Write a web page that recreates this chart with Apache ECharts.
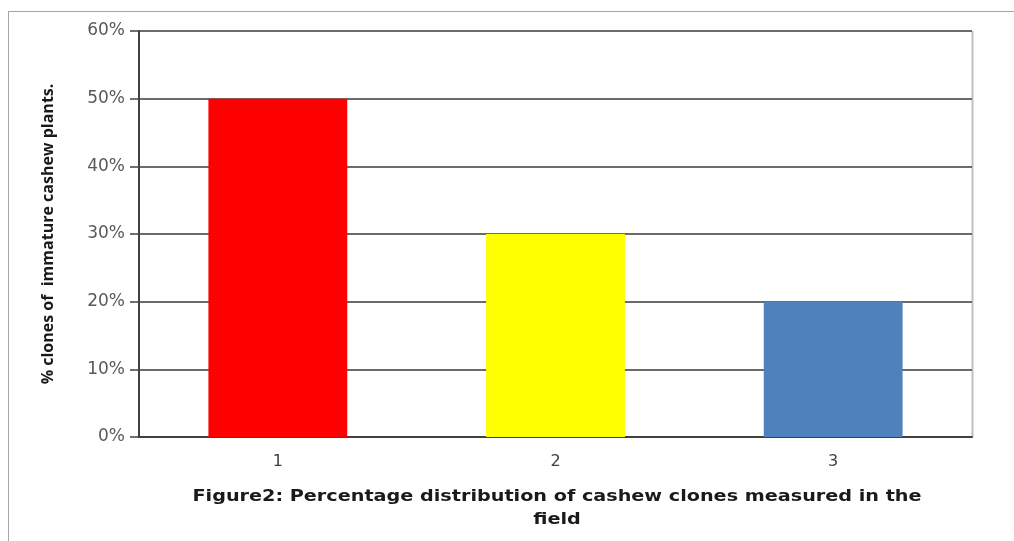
<!DOCTYPE html>
<html>
<head>
<meta charset="utf-8">
<script src="https://cdn.jsdelivr.net/npm/echarts@6/dist/echarts.min.js"></script>
<style>
  html, body { margin: 0; padding: 0; background: #fff; }
  #chart { width: 1014px; height: 541px; }
</style>
</head>
<body>
<div id="chart"></div>
<script>
// Clone groups and their share of immature cashew plants (%)
const categories = ['1', '2', '3'];
const shares = [50, 30, 20];
const barColors = ['#ff0000', '#ffff00', '#4f81bd'];
const yTicks = [0, 10, 20, 30, 40, 50, 60];
const captionLines = ['Figure2: Percentage distribution of cashew clones measured in the', 'field'];

const chart = echarts.init(document.getElementById('chart'));

chart.setOption({
  animation: false,
  backgroundColor: '#ffffff',
  graphic: [
    // outer frame: top and left rules
    { type: 'line', shape: { x1: 8, y1: 11.5, x2: 1014, y2: 11.5 }, style: { stroke: '#a6a6a6', lineWidth: 1 } },
    { type: 'line', shape: { x1: 8.5, y1: 11, x2: 8.5, y2: 541 }, style: { stroke: '#a6a6a6', lineWidth: 1 } },
    // plot area right edge
    { type: 'line', shape: { x1: 972.5, y1: 31, x2: 972.5, y2: 437 }, style: { stroke: '#bfbfbf', lineWidth: 2 } },
    // caption under the chart, widened a little
    {
      type: 'text',
      x: 557,
      y: 485,
      scaleX: 1.2,
      style: {
        text: captionLines.join('\n'),
        align: 'center',
        fontFamily: 'DejaVu Sans',
        fontWeight: 'bold',
        fontSize: 16,
        lineHeight: 23,
        fill: '#1a1a1a'
      }
    }
  ],
  grid: {
    left: 139,
    right: 42,
    top: 31,
    bottom: 104,
    containLabel: false
  },
  xAxis: {
    type: 'category',
    data: categories,
    axisLine: { show: true, lineStyle: { color: '#404040', width: 2 } },
    axisTick: { show: false },
    axisLabel: {
      margin: 17,
      fontFamily: 'DejaVu Sans',
      fontSize: 16,
      color: '#404040'
    }
  },
  yAxis: {
    type: 'value',
    min: yTicks[0],
    max: yTicks[yTicks.length - 1],
    interval: 10,
    name: '% clones of  immature cashew plants.',
    nameLocation: 'middle',
    nameGap: 83,
    nameTextStyle: {
      fontFamily: 'Open Sans',
      fontWeight: 'bold',
      fontSize: 16,
      color: '#1a1a1a'
    },
    axisLine: { show: true, lineStyle: { color: '#404040', width: 2 } },
    axisTick: { show: true, length: 9, lineStyle: { color: '#404040', width: 1.5 } },
    axisLabel: {
      margin: 14,
      fontFamily: 'DejaVu Sans',
      fontSize: 17,
      color: '#595959',
      formatter: '{value}%'
    },
    splitLine: { show: true, lineStyle: { color: '#3a3a3a', width: 1.5 } }
  },
  series: [{
    type: 'bar',
    data: shares.map((v, i) => ({ value: v, itemStyle: { color: barColors[i] } })),
    barWidth: '50%'
  }]
});
</script>
</body>
</html>
